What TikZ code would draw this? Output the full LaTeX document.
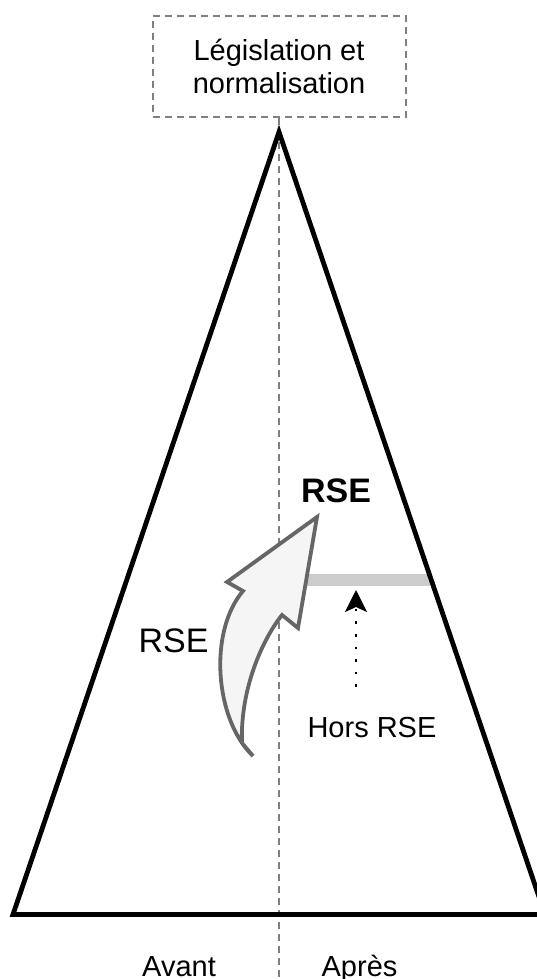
\documentclass[tikz,border=0pt]{standalone}
\usepackage{fontspec}
\setmainfont{Liberation Sans}
\usetikzlibrary{arrows.meta}
\definecolor{dashgray}{RGB}{128,128,128}
\definecolor{arrowgray}{RGB}{102,102,102}
\definecolor{arrowfill}{RGB}{245,245,245}
\definecolor{bargray}{RGB}{204,204,204}
\begin{document}
\begin{tikzpicture}[x=0.5pt,y=-0.5pt,
  txt/.style={font=\fontsize{14.5pt}{16.5pt}\selectfont, inner sep=0pt},
  big/.style={font=\fontsize{17pt}{20pt}\selectfont, inner sep=0pt},
  bigbold/.style={font=\fontsize{17pt}{20pt}\selectfont\bfseries, inner sep=0pt},
  legbox/.style={draw=dashgray, line width=1pt, dash pattern=on 3.5pt off 2.5pt,
    minimum width=126.5pt, minimum height=50.5pt, align=center, inner sep=0pt,
    font=\fontsize{14.5pt}{16.5pt}\selectfont},
  guide/.style={draw=dashgray, line width=1pt, dash pattern=on 3.5pt off 2.5pt},
  pyramid/.style={draw=black, line width=2.4pt, line join=miter},
  bigarrow/.style={draw=arrowgray, fill=arrowfill, line width=1.9pt, line join=miter},
  bar/.style={draw=bargray, line width=6pt},
  dotarrow/.style={draw=black, line width=1.3pt, dash pattern=on 1.3pt off 5pt,
    -{Stealth[length=11pt,width=11pt,inset=2.5pt]}}
]
\useasboundingbox (0,0) rectangle (536,979);

% legislation box
\node[legbox] (leg) at (279,66.5) {Législation et\\normalisation};
\coordinate (guideend) at (279,979);
\draw[guide] (leg.south) -- (guideend);

% grey bar
\coordinate (barA) at (300,580);
\coordinate (barB) at (430,580);
\draw[bar] (barA) -- (barB);

% pyramid
\coordinate (apex) at (279,132);
\coordinate (bl) at (13,914.5);
\coordinate (br) at (545,914.5);
\draw[pyramid] (apex) -- (bl) -- (br) -- cycle;

% big curved arrow
\draw[bigarrow] (317,517) -- (298,628) -- (282,615)
  .. controls (262,640) and (240,690) .. (242,743) -- (253,756)
  .. controls (215,720) and (208,632) .. (243,591) -- (227,582) -- cycle;

% dotted arrow
\coordinate (dotstart) at (356,687);
\coordinate (dotend) at (356,590);
\draw[dotarrow] (dotstart) -- (dotend);

% labels
\node[bigbold, anchor=base] (rsebold) at (336,502) {RSE};
\node[big, anchor=base] (rse) at (173.5,652) {RSE};
\node[txt, anchor=base] (hors) at (372,737) {Hors RSE};
\node[txt, anchor=base] (avant) at (179,976) {Avant};
\node[txt, anchor=base] (apres) at (359.5,976) {Après};
\end{tikzpicture}
\end{document}
